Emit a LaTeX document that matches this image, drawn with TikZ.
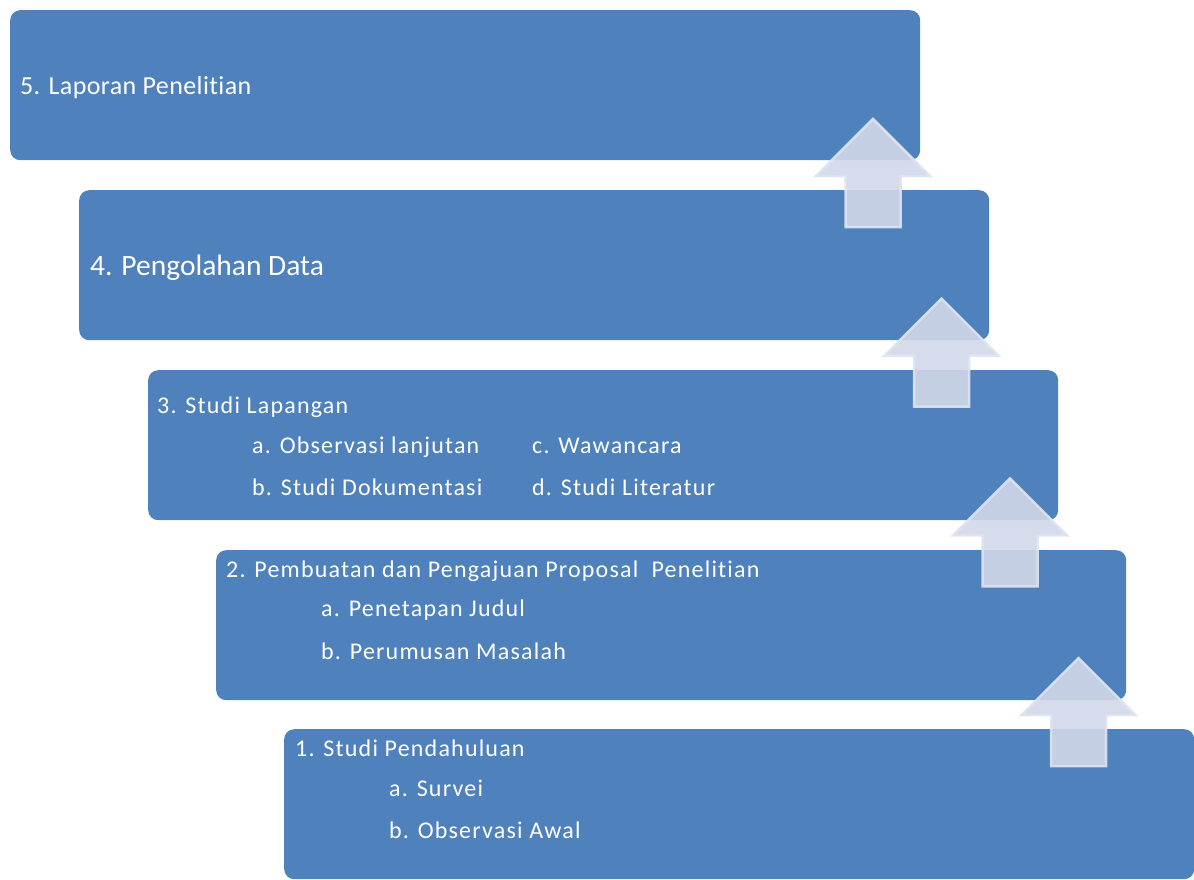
\documentclass[tikz,border=0pt]{standalone}
\usepackage{fontspec}
\setmainfont[Ligatures=NoCommon]{Carlito}
\newfontfamily\pasofont[LetterSpace=5,Ligatures=NoCommon]{Carlito}
\newfontfamily\tituloffont[LetterSpace=1.5,Ligatures=NoCommon]{Carlito}
\definecolor{cajaazul}{HTML}{4F81BD}
\definecolor{flechafondo}{RGB}{209,216,233}
\definecolor{flechaborde}{RGB}{222,228,240}
\begin{document}
\begin{tikzpicture}[x=1pt,y=-1pt,
    caja/.style={fill=cajaazul, rounded corners=10pt, minimum width=910pt,
        minimum height=150pt, inner sep=0pt, anchor=north west},
    paso/.style={text=white, inner sep=0pt, anchor=base west,
        font=\pasofont\fontsize{24}{28}\selectfont},
    flecha/.style={fill=flechafondo, draw=flechaborde, line width=2.5pt,
        opacity=0.9, line join=miter}]
    \useasboundingbox (0,0) rectangle (1194,880);

    % Cajas de las etapas
    \node[caja] (b5) at (10,10) {};
    \node[caja] (b4) at (79,190) {};
    \node[caja] (b3) at (148,370) {};
    \node[caja] (b2) at (216,550) {};
    \node[caja] (b1) at (284,729) {};

    % Etapa 5 y 4
    \node[paso, font=\tituloffont\fontsize{26}{30}\selectfont] (t5) at (20,95) {5. Laporan Penelitian};
    \node[paso, font=\fontsize{29.5}{34}\selectfont] (t4) at (90,275) {4. Pengolahan Data};

    % Etapa 3
    \node[paso] (t3) at (157,413) {3. Studi Lapangan};
    \node[paso] (t3a) at (252,453) {a. Observasi lanjutan};
    \node[paso] (t3b) at (252,495) {b. Studi Dokumentasi};
    \node[paso] (t3c) at (532,453) {c. Wawancara};
    \node[paso] (t3d) at (532,495) {d. Studi Literatur};

    % Etapa 2
    \node[paso] (t2) at (226,577) {2. Pembuatan dan Pengajuan Proposal\ \ Penelitian};
    \node[paso] (t2a) at (321,616) {a. Penetapan Judul};
    \node[paso] (t2b) at (321,659) {b. Perumusan Masalah};

    % Etapa 1
    \node[paso] (t1) at (295,756) {1. Studi Pendahuluan};
    \node[paso] (t1a) at (389,796) {a. Survei};
    \node[paso] (t1b) at (389,838) {b. Observasi Awal};

    % Flechas entre etapas
    \foreach \i in {0,...,3} {
        \coordinate (f\i) at (873+68.5*\i,227+179.7*\i);
        \draw[flecha] (f\i) ++(-27.5,0) -- ++(0,-51) -- ++(-29.5,0)
            -- ++(57,-57) -- ++(57,57) -- ++(-29.5,0) -- ++(0,51) -- cycle;
    }
\end{tikzpicture}
\end{document}
